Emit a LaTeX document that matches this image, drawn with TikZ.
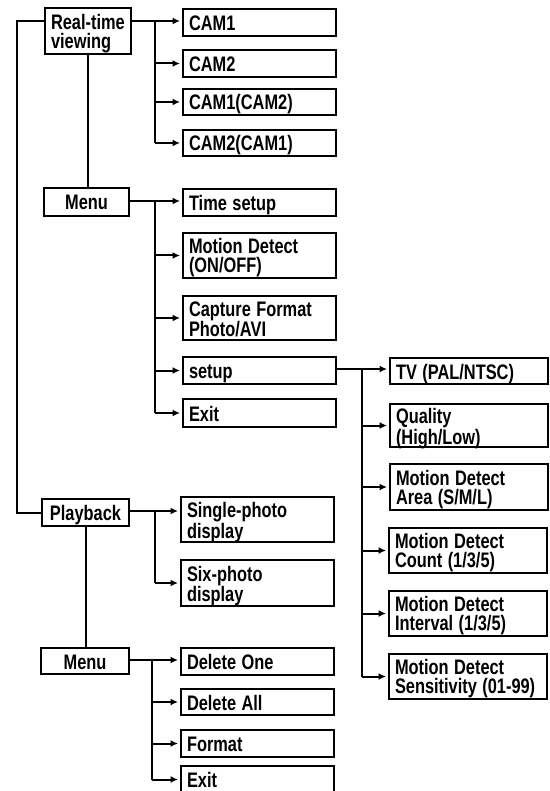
\documentclass[tikz,border=0pt]{standalone}
\usepackage{fontspec}
\usepackage{graphicx}
\newfontfamily\boxfont{Liberation Sans}
\newcommand\nl[1]{\scalebox{0.78}[1]{#1}}
\usetikzlibrary{arrows.meta}
\begin{document}
\begin{tikzpicture}[x=1pt,y=-1pt,
  every node/.style={font=\boxfont\bfseries\fontsize{21}{19}\selectfont},
  base/.style={draw, line width=2pt, anchor=north west, inner ysep=0pt, text height=16pt, text depth=0pt},
  two/.style={text height=16pt, text depth=19.5pt},
  rbox/.style={base, inner xsep=6pt, align=left, text width=141pt},
  sbox/.style={base, inner xsep=6pt, align=left, text width=146pt},
  lbox/.style={base, inner xsep=4pt, align=center},
  ln/.style={line width=2pt},
  arr/.style={ln, -{Latex[length=7.5pt,width=7pt]}, shorten >=2pt}]
\useasboundingbox (0,0) rectangle (549,791);
\clip (0,0) rectangle (549,791);
% left column
\node[lbox, two, minimum width=86pt, minimum height=46pt, inner xsep=6pt, align=left, text width=74pt] (rt) at (44,7) {\nl{Real-time}\\\nl{viewing}};
\node[lbox, minimum width=85pt, minimum height=28pt] (menu1) at (43,187) {\nl{Menu}};
\node[lbox, minimum width=87pt, minimum height=27pt] (play) at (41,498) {\nl{Playback}};
\node[lbox, minimum width=88pt, minimum height=26pt] (menu2) at (40,647) {\nl{Menu}};
% middle column
\node[rbox, minimum height=27pt] (cam1) at (182,8) {\nl{CAM1}};
\node[rbox, minimum height=27pt] (cam2) at (182,49) {\nl{CAM2}};
\node[rbox, minimum height=26pt] (cam12) at (182,88) {\nl{CAM1(CAM2)}};
\node[rbox, minimum height=26pt] (cam21) at (182,129) {\nl{CAM2(CAM1)}};
\node[rbox, minimum height=27pt] (time) at (182,188) {\nl{Time setup}};
\node[rbox, two, minimum height=45pt] (md) at (182,232) {\nl{Motion Detect}\\\nl{(ON/OFF)}};
\node[rbox, two, minimum height=44pt] (cap) at (182,295) {\nl{Capture Format}\\\nl{Photo/AVI}};
\node[rbox, minimum height=27pt] (setup) at (182,356) {\nl{setup}};
\node[rbox, minimum height=28pt] (exit1) at (182,398) {\nl{Exit}};
\node[rbox, two, minimum height=45pt] (single) at (180,496) {\nl{Single-photo}\\\nl{display}};
\node[rbox, two, minimum height=46pt] (six) at (180,559) {\nl{Six-photo}\\\nl{display}};
\node[rbox, minimum height=27pt] (del1) at (180,647) {\nl{Delete One}};
\node[rbox, minimum height=26pt] (delall) at (180,688) {\nl{Delete All}};
\node[rbox, minimum height=27pt] (format) at (180,729) {\nl{Format}};
\node[rbox, minimum height=27pt, text height=15pt] (exit2) at (180,765) {\nl{Exit}};
% right column
\node[sbox, minimum height=26pt] (tv) at (389,357) {\nl{TV (PAL/NTSC)}};
\node[sbox, two, minimum height=43pt] (qual) at (389,403) {\nl{Quality}\\\nl{(High/Low)}};
\node[sbox, two, minimum height=46pt] (area) at (389,463) {\nl{Motion Detect}\\\nl{Area (S/M/L)}};
\node[sbox, two, minimum height=45pt] (count) at (388,527) {\nl{Motion Detect}\\\nl{Count (1/3/5)}};
\node[sbox, two, minimum height=45pt] (inter) at (388,590) {\nl{Motion Detect}\\\nl{Interval (1/3/5)}};
\node[sbox, two, minimum height=45pt] (sens) at (388,653) {\nl{Motion Detect}\\\nl{Sensitivity (01-99)}};
% branch coordinates
\coordinate (sp) at (17,21);
\coordinate (b1) at (155,21);
\coordinate (b2) at (155,201);
\coordinate (b3) at (362,369);
\coordinate (b4) at (155,511);
\coordinate (b5) at (152,660);
% left spine
\draw[ln] (rt.west |- sp) -- (sp) -- (sp |- play) -- (play.west);
\draw[ln] (rt.south) -- (rt.south |- menu1.north);
\draw[ln] (play.south) -- (play.south |- menu2.north);
% real-time branch
\draw[arr] (rt.east |- b1) -- (cam1.west |- b1);
\draw[ln] (b1) -- (b1 |- cam21);
\draw[arr] (b1 |- cam2) -- (cam2.west);
\draw[arr] (b1 |- cam12) -- (cam12.west);
\draw[arr] (b1 |- cam21) -- (cam21.west);
% menu branch
\draw[arr] (menu1.east |- b2) -- (time.west |- b2);
\draw[ln] (b2) -- (b2 |- exit1);
\draw[arr] (b2 |- md) -- (md.west);
\draw[arr] (b2 |- cap) -- (cap.west);
\draw[arr] (b2 |- setup) -- (setup.west);
\draw[arr] (b2 |- exit1) -- (exit1.west);
% setup branch
\draw[arr] (setup.east |- b3) -- (tv.west |- b3);
\draw[ln] (b3) -- (b3 |- sens);
\draw[arr] (b3 |- qual) -- (qual.west);
\draw[arr] (b3 |- area) -- (area.west);
\draw[arr] (b3 |- count) -- (count.west);
\draw[arr] (b3 |- inter) -- (inter.west);
\draw[arr] (b3 |- sens) -- (sens.west);
% playback branch
\draw[arr] (play.east |- b4) -- (single.west |- b4);
\draw[ln] (b4) -- (b4 |- six);
\draw[arr] (b4 |- six) -- (six.west);
% playback menu branch
\draw[arr] (menu2.east |- b5) -- (del1.west |- b5);
\draw[ln] (b5) -- (b5 |- exit2);
\draw[arr] (b5 |- delall) -- (delall.west);
\draw[arr] (b5 |- format) -- (format.west);
\draw[arr] (b5 |- exit2) -- (exit2.west);
\end{tikzpicture}
\end{document}
